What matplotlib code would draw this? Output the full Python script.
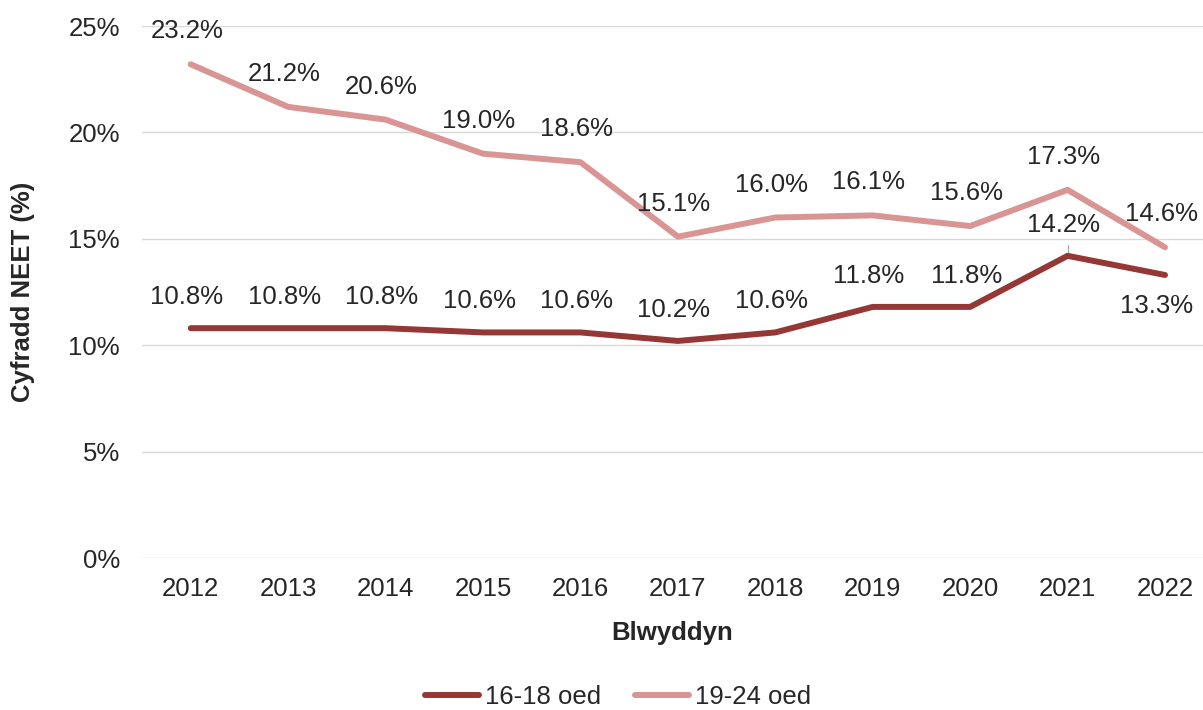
import matplotlib
matplotlib.use('Agg')
import matplotlib.pyplot as plt
from matplotlib.ticker import FuncFormatter

plt.rcParams['font.family'] = ['Liberation Sans', 'DejaVu Sans']

years = ['2012', '2013', '2014', '2015', '2016', '2017', '2018', '2019', '2020', '2021', '2022']
oed_16_18 = [10.8, 10.8, 10.8, 10.6, 10.6, 10.2, 10.6, 11.8, 11.8, 14.2, 13.3]
oed_19_24 = [23.2, 21.2, 20.6, 19.0, 18.6, 15.1, 16.0, 16.1, 15.6, 17.3, 14.6]
labels = ['16-18 oed', '19-24 oed']

dark = '#953735'
light = '#d99594'
txt = '#262626'

fig = plt.figure(figsize=(12.03, 7.10), dpi=100)
ax = fig.add_axes([142/1203, 1-558/710, 1-142/1203, (558-26)/710])

x = list(range(len(years)))
ax.plot(x, oed_16_18, color=dark, lw=4.3, solid_capstyle='round', label=labels[0], zorder=3)
ax.plot(x, oed_19_24, color=light, lw=4.3, solid_capstyle='round', label=labels[1], zorder=3)

fs = 18.5
# data labels, mostly above the points
for i, v in enumerate(oed_19_24):
    ax.annotate(f'{v:.1f}%', (i, v), xytext=(-4, 33), textcoords='offset pixels',
                ha='center', va='center', fontsize=fs, color=txt)
for i, v in enumerate(oed_16_18):
    off = (-4, 31)
    if i == len(years) - 1:
        off = (-8, -31)
    ax.annotate(f'{v:.1f}%', (i, v), xytext=off, textcoords='offset pixels',
                ha='center', va='center', fontsize=fs, color=txt)
# leader line for 2021
ax.plot([9, 9], [oed_16_18[9] + 0.05, oed_16_18[9] + 0.5], color='#a6a6a6', lw=0.8, zorder=2)

ax.set_xlim(-0.5, 10.39)
ax.set_ylim(0, 25)
ax.set_yticks([0, 5, 10, 15, 20, 25])
ax.yaxis.set_major_formatter(FuncFormatter(lambda v, p: f'{v:.0f}%'))
ax.set_xticks(x)
ax.set_xticklabels(years)
ax.grid(axis='y', color='#d9d9d9', lw=1)
ax.set_axisbelow(True)
for s in ax.spines.values():
    s.set_visible(False)
ax.tick_params(length=0, labelsize=fs, colors=txt, pad=14)
ax.tick_params(axis='y', pad=16)

ax.set_xlabel('Blwyddyn', fontsize=fs, fontweight='bold', color=txt, labelpad=14)
ax.set_ylabel('Cyfradd NEET (%)', fontsize=fs, fontweight='bold', color=txt, labelpad=24)

fig.legend(loc='center', bbox_to_anchor=(618/1203, 1-697/710), ncol=2, frameon=False,
           fontsize=fs, labelcolor=txt, handlelength=2.1, handletextpad=0.25, columnspacing=1.3)

fig.savefig('out.png', dpi=100)
